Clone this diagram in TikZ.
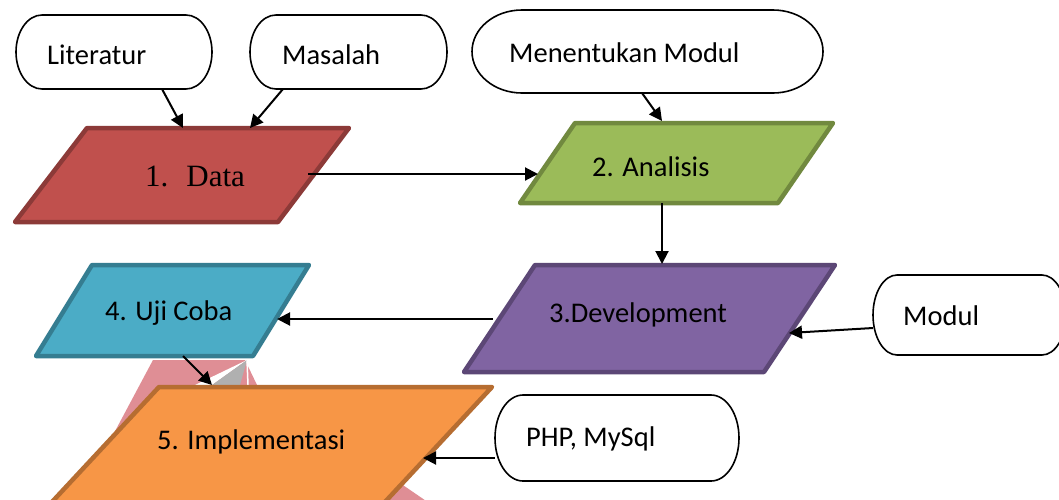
\documentclass[tikz,border=0pt]{standalone}
\usepackage{fontspec}
\setmainfont{Carlito}
\newfontfamily\serifface{Liberation Serif}
\usetikzlibrary{arrows.meta,calc}
\definecolor{dataF}{HTML}{C0504D}\definecolor{dataB}{HTML}{8C3A38}
\definecolor{anaF}{HTML}{9BBB59}\definecolor{anaB}{HTML}{71893F}
\definecolor{devF}{HTML}{8064A2}\definecolor{devB}{HTML}{5C4776}
\definecolor{ujiF}{HTML}{4BACC6}\definecolor{ujiB}{HTML}{357D91}
\definecolor{impF}{HTML}{F79646}\definecolor{impB}{HTML}{B66D31}
\definecolor{wmPink}{HTML}{DF8E95}\definecolor{wmGrey}{HTML}{B0B0B0}
\tikzset{
  para/.style={line width=4.5pt, line join=round},
  pill/.style={draw=black, line width=1.6pt, fill=white},
  lbl/.style={anchor=base west, inner sep=0pt, font=\fontsize{28.5}{32}\selectfont},
  flow/.style={draw=black, line width=2pt, -{Triangle[length=13pt,width=13pt]}},
}
% terminator: x1 y1 x2 y2 rx
\newcommand\termbox[5]{%
  \pgfmathsetmacro\tbry{(#4-#2)/2}%
  \draw[pill] ({#1+#5},#2) -- ({#3-#5},#2)
    arc[start angle=-90, end angle=90, x radius=#5, y radius=\tbry]
    -- ({#1+#5},#4)
    arc[start angle=90, end angle=270, x radius=#5, y radius=\tbry] -- cycle;}
\begin{document}
\begin{tikzpicture}[x=1pt,y=-1pt]
\useasboundingbox (0,0) rectangle (1059,499);
\clip (0,0) rectangle (1059,499);
\fill[white] (0,0) rectangle (1059,499);
% watermark
\fill[wmPink] (153,360) -- (245,360) -- (257,385) -- (432,505) -- (95,505) -- (113,435) -- cycle;
\fill[white] (195,385) -- (247,360) -- (212,385) -- cycle;
\fill[wmGrey] (212,385) -- (247,360) -- (240,385) -- cycle;
\draw[white, line width=1.5pt] (247,360) -- (248,385);
% terminators
\termbox{16}{15}{212}{89}{26}
\termbox{250}{15}{447}{89}{26}
\termbox{472}{10}{823}{93}{50}
\termbox{873}{275}{1066}{355}{24}
\termbox{495}{395}{739}{481}{28}
\node[lbl] (lit) at (47,64) {Literatur};
\node[lbl] (mas) at (282,64) {Masalah};
\node[lbl] (men) at (509,62) {Menentukan Modul};
\node[lbl] (mod) at (903,325) {Modul};
\node[lbl] (php) at (526,446) {PHP, MySql};
% parallelograms
\draw[para, draw=dataB, fill=dataF] (87,128) -- (349,128) -- (278,222) -- (15,222) -- cycle;
\draw[para, draw=anaB, fill=anaF] (575,123) -- (833,123) -- (778,203) -- (520,203) -- cycle;
\draw[para, draw=devB, fill=devF] (535,265) -- (835,265) -- (764,372) -- (464,372) -- cycle;
\draw[para, draw=ujiB, fill=ujiF] (92,265) -- (309,265) -- (253,356) -- (36,356) -- cycle;
\node[anchor=base west, inner sep=0pt, font=\serifface\fontsize{31}{34}\selectfont] (data) at (145,186) {1.\hspace{18pt}Data};
\node[lbl] (ana) at (592,176) {2. Analisis};
\node[lbl] (dev) at (549,322) {3.Development};
\node[lbl] (uji) at (105,320) {4. Uji Coba};
% arrows
\coordinate (litS) at (162,89); \coordinate (dataA) at (183,128);
\coordinate (masS) at (283,89); \coordinate (dataB1) at (250,128);
\coordinate (menS) at (642,93); \coordinate (anaT) at (662,121);
\coordinate (dataR) at (308,174); \coordinate (anaL) at (538,174);
\coordinate (anaS) at (662,203); \coordinate (devT) at (662,264);
\coordinate (devL) at (493,319); \coordinate (ujiR) at (277,319);
\coordinate (modL) at (873,328); \coordinate (devR) at (789,333);
\coordinate (ujiS) at (183,356); \coordinate (impT) at (212,385);
\coordinate (phpL) at (495,458); \coordinate (impR) at (423,458);
\draw[flow] (litS) -- (dataA);
\draw[flow] (masS) -- (dataB1);
\draw[flow] (menS) -- (anaT);
\draw[flow] (dataR) -- (anaL);
\draw[flow] (anaS) -- (devT);
\draw[flow] (devL) -- (ujiR);
\draw[flow] (modL) -- (devR);
\draw[flow] (ujiS) -- (impT);
% implementasi
\draw[para, draw=impB, fill=impF] (159,387) -- (492,387) -- (384,503) -- (51,503) -- cycle;
\node[lbl] (imp) at (157,449) {5. Implementasi};
\draw[flow] (phpL) -- (impR);
\end{tikzpicture}
\end{document}
